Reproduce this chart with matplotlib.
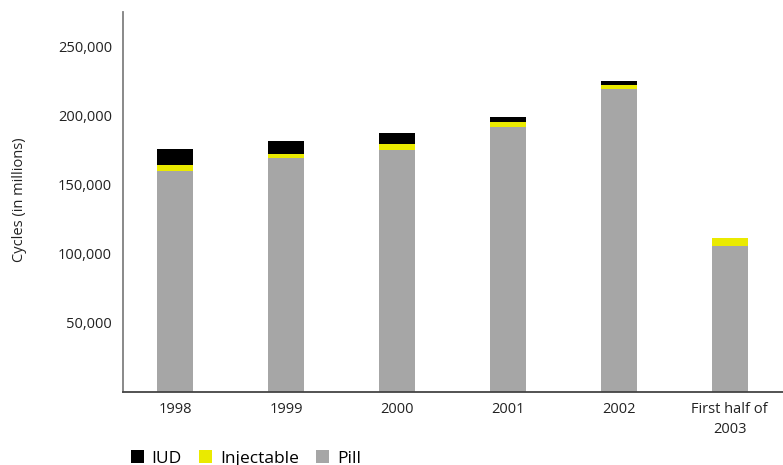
import matplotlib
matplotlib.use("Agg")
import matplotlib.pyplot as plt
from matplotlib.ticker import FuncFormatter

plt.rcParams['font.family'] = ['Open Sans', 'DejaVu Sans']

# contraceptive cycles by method, stacked pill / injectable / IUD
years = ["1998", "1999", "2000", "2001", "2002", "First half of\n2003"]
pill = [160000, 169000, 175000, 192000, 219500, 106000]
injectable = [4500, 3000, 4500, 3500, 3000, 5600]
iud = [11000, 10000, 8000, 3600, 2900, 0]

fig = plt.figure(figsize=(7.83, 4.65), dpi=100, facecolor='w')
ax = fig.add_axes([123/783, 1-392/465, 1-123/783, (392-12)/465])

x = range(len(years))
w = 0.325
base2 = [p + i for p, i in zip(pill, injectable)]
ax.bar(x, pill, w, color='#a6a6a6', label='Pill')
ax.bar(x, injectable, w, bottom=pill, color='#eaea00', label='Injectable')
ax.bar(x, iud, w, bottom=base2, color='#000000', label='IUD')

ax.set_xlim(-0.47, 5.48)
ax.set_ylim(0, 275000)
ax.set_yticks([50000, 100000, 150000, 200000, 250000])
ax.get_yaxis().set_major_formatter(FuncFormatter(lambda v, loc: "{:,}".format(int(v))))
ax.set_xticks(list(x))
ax.set_xticklabels(years, linespacing=1.5)
ax.tick_params(axis='both', length=0, labelsize=10.5, colors='#222222')
ax.tick_params(axis='y', pad=8)
ax.tick_params(axis='x', pad=7)

for s in ['top', 'right']:
    ax.spines[s].set_visible(False)
ax.spines['left'].set_color('#808080')
ax.spines['left'].set_linewidth(1.3)
ax.spines['bottom'].set_color('#444444')
ax.spines['bottom'].set_linewidth(1.3)

fig.text(20/783, 1-200/465, "Cycles (in millions)", rotation=90, ha='center', va='center',
         fontsize=10.5, color='#222222')

h, l = ax.get_legend_handles_labels()
fig.legend(h[::-1], l[::-1], loc='lower left', bbox_to_anchor=(122/783, -0.022), ncol=3,
           frameon=False, handlelength=0.75, handleheight=0.75, handletextpad=0.45,
           columnspacing=1.0, fontsize=12.5, borderpad=0)

plt.savefig("out.png", dpi=100)
plt.close()
